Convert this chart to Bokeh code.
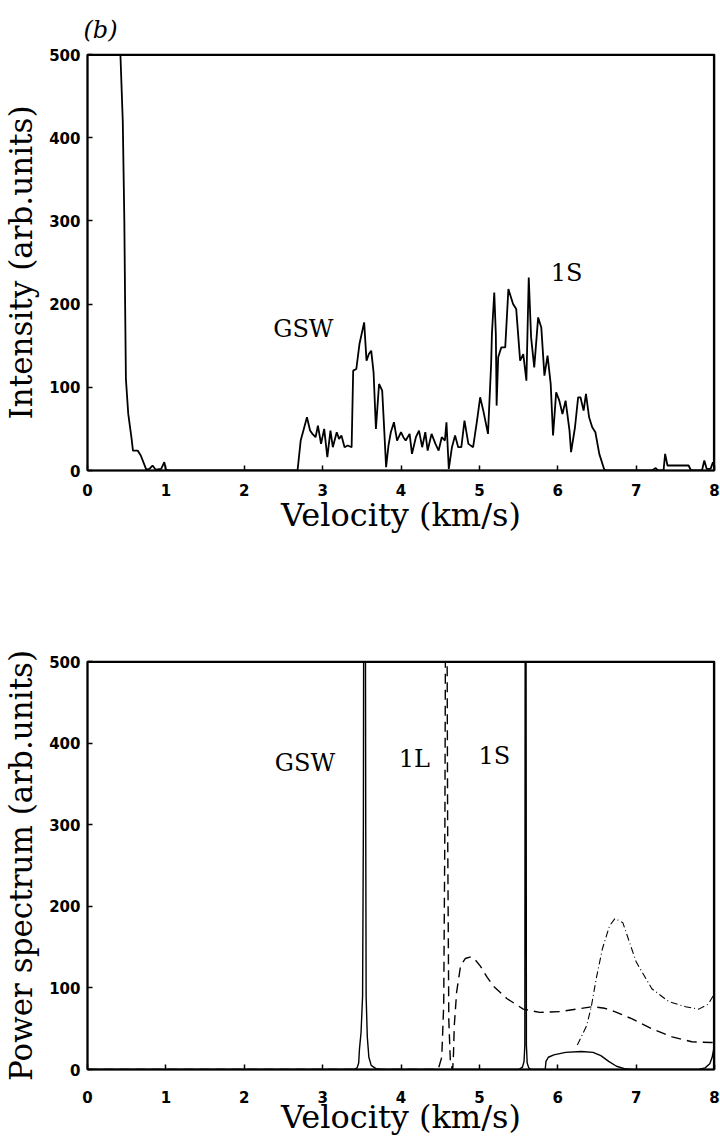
from bokeh.plotting import figure
from bokeh.layouts import column
from bokeh.models import Label, FixedTicker
from bokeh.embed import file_html
from bokeh.resources import INLINE

# ---------------- measured time-of-flight intensity (panel b, top) ----------------
vel_meas = [0.00, 0.39, 0.42, 0.45, 0.47, 0.48, 0.49, 0.52, 0.56, 0.58, 0.64, 0.68,
            0.75, 0.79, 0.83, 0.87, 0.94, 0.98, 1.00, 1.05, 2.68,
            2.72, 2.76, 2.80, 2.84, 2.87, 2.91, 2.94, 2.98, 3.02, 3.06, 3.10, 3.13,
            3.18, 3.21, 3.24, 3.28, 3.32, 3.37, 3.39, 3.43, 3.47, 3.53, 3.56, 3.59,
            3.62, 3.65, 3.68, 3.72, 3.76, 3.78, 3.81, 3.84, 3.87, 3.91, 3.95, 4.00,
            4.03, 4.06, 4.11, 4.14, 4.19, 4.23, 4.27, 4.31, 4.34, 4.39, 4.44, 4.48,
            4.52, 4.56, 4.58, 4.61, 4.65, 4.69, 4.73, 4.77, 4.81, 4.86, 4.92, 4.97,
            5.01, 5.05, 5.11, 5.15, 5.16, 5.19, 5.21, 5.22, 5.24, 5.28, 5.33, 5.37,
            5.43, 5.47, 5.52, 5.56, 5.60, 5.63, 5.66, 5.70, 5.75, 5.79, 5.83, 5.87,
            5.91, 5.94, 5.98, 6.02, 6.06, 6.10, 6.15, 6.17, 6.22, 6.26, 6.29, 6.33,
            6.36, 6.40, 6.44, 6.48, 6.53, 6.59, 6.61, 7.20, 7.25, 7.28, 7.35, 7.37,
            7.40, 7.67, 7.70, 7.84, 7.87, 7.90, 7.95, 7.98, 8.00]
int_meas = [500, 500, 500, 420, 300, 200, 110, 68, 40, 24, 24, 18,
            1, 2, 6, 1, 2, 10, 1, 0, 0,
            36, 50, 64, 48, 44, 40, 54, 32, 50, 16, 48, 28,
            46, 38, 42, 28, 30, 28, 120, 122, 152, 178, 132, 140,
            144, 118, 50, 104, 96, 60, 4, 30, 46, 58, 36, 46,
            40, 36, 44, 20, 40, 48, 28, 46, 24, 44, 32, 24,
            40, 36, 58, 2, 28, 42, 28, 28, 60, 32, 28, 60,
            88, 72, 44, 128, 164, 214, 164, 78, 136, 148, 148, 218,
            200, 194, 132, 140, 108, 232, 160, 124, 184, 172, 114, 138,
            104, 42, 94, 84, 68, 84, 48, 22, 52, 88, 88, 72,
            92, 64, 52, 46, 20, 2, 0, 0, 3, 0, 0, 20,
            6, 6, 0, 0, 12, 2, 2, 10, 4]

# ---------------- calculated power spectra (bottom) ----------------
# solid: GSW and 1S resonances plus weak continuum
vel_solid = [0.00, 3.40, 3.44, 3.46, 3.47, 3.49, 3.51, 3.52, 3.525, 3.545, 3.55,
             3.555, 3.57, 3.59, 3.62, 3.68, 3.75, 5.50, 5.55, 5.57, 5.58, 5.585,
             5.595, 5.60, 5.61, 5.63, 5.66, 5.84, 5.85, 5.88, 5.95, 6.10, 6.30,
             6.45, 6.55, 6.65, 6.75, 6.85, 6.95, 7.80, 7.88, 7.94, 7.97, 7.99, 8.00]
pow_solid = [0, 0, 2, 8, 25, 45, 90, 300, 620, 620, 300,
             90, 40, 15, 5, 1, 0, 0, 3, 10, 30, 620,
             620, 30, 8, 2, 0, 0, 10, 15, 18, 21, 22,
             21, 17, 10, 4, 1, 0, 0, 2, 7, 15, 25, 28]

# dashed: 1L resonance and its broad shoulder
vel_dash = [0.00, 4.40, 4.48, 4.52, 4.545, 4.56, 4.57, 4.585, 4.595, 4.61, 4.63,
            4.65, 4.66, 4.67, 4.68, 4.71, 4.76, 4.82, 4.89, 4.95, 5.01, 5.10,
            5.18, 5.35, 5.56, 5.77, 6.03, 6.24, 6.45, 6.60, 6.70, 6.95, 7.20,
            7.46, 7.71, 7.96, 8.00]
pow_dash = [0, 0, 2, 15, 80, 300, 620, 620, 300, 60, 10,
            2, 0, 20, 54, 95, 127, 136, 138, 134, 127, 113,
            102, 87, 74, 70, 71, 74, 77, 75, 72, 62, 50,
            40, 34, 33, 33]

# dash-dot: high-velocity branch
vel_dashdot = [6.25, 6.31, 6.37, 6.43, 6.49, 6.57, 6.66, 6.73, 6.83, 7.00, 7.20,
               7.42, 7.63, 7.80, 7.92, 8.00]
pow_dashdot = [30, 42, 54, 78, 111, 148, 176, 185, 180, 132, 99,
               83, 77, 74, 80, 93]

x_ticks = [0, 1, 2, 3, 4, 5, 6, 7, 8]
y_ticks = [0, 100, 200, 300, 400, 500]

# peak annotations: (text, velocity, value)
top_notes = [("GSW", 2.37, 170), ("1S", 5.91, 237)]
bottom_notes = [("GSW", 2.39, 376), ("1L", 3.97, 381), ("1S", 4.99, 384)]

SERIF = "DejaVu Serif"
TICKFONT = "DejaVu Sans"


def style(p, ylabel, tick_standoff, label_standoff):
    p.outline_line_color = "black"
    p.outline_line_width = 1.6
    p.xgrid.visible = False
    p.ygrid.visible = False
    p.background_fill_color = "white"
    p.border_fill_color = "white"
    # top and right edges of the plot box, traced along the range limits
    x_lo, x_hi = x_ticks[0], x_ticks[-1]
    y_lo, y_hi = y_ticks[0], y_ticks[-1]
    p.line(x=[x_lo, x_hi, x_hi], y=[y_hi, y_hi, y_lo],
           line_color="black", line_width=3.2)
    p.xaxis.ticker = FixedTicker(ticks=x_ticks)
    p.yaxis.ticker = FixedTicker(ticks=y_ticks)
    for ax in (p.xaxis[0], p.yaxis[0]):
        ax.axis_line_width = 2
        ax.axis_line_color = "black"
        ax.major_tick_in = 5
        ax.major_tick_out = 0
        ax.major_tick_line_width = 1.5
        ax.minor_tick_line_color = None
        ax.major_label_text_font = TICKFONT
        ax.major_label_text_font_style = "bold"
        ax.major_label_text_font_size = "15px"
        ax.major_label_text_color = "black"
        ax.axis_label_text_font = SERIF
        ax.axis_label_text_font_style = "normal"
        ax.axis_label_text_color = "black"
    p.xaxis.axis_label = "Velocity (km/s)"
    p.xaxis.axis_label_text_font_size = "32px"
    p.xaxis.major_label_standoff = tick_standoff
    p.xaxis.axis_label_standoff = label_standoff
    p.yaxis.axis_label = ylabel
    p.yaxis.axis_label_text_font_size = "31px"
    p.yaxis.major_label_standoff = 7
    p.yaxis.axis_label_standoff = 7


def notes(p, items):
    for txt, vx, vy in items:
        p.add_layout(Label(x=vx, y=vy, text=txt, text_font=SERIF,
                           text_font_size="24px", text_color="black",
                           text_baseline="alphabetic", text_align="left"))


# ---- top panel: measured intensity ----
top = figure(width=720, height=560, x_range=(0, 8), y_range=(0, 500),
             output_backend="svg", toolbar_location=None,
             min_border_left=86, min_border_right=6,
             min_border_top=54, min_border_bottom=90,
             title="(b)", title_location="above")
top.title.text_font = SERIF
top.title.text_font_style = "italic"
top.title.text_font_size = "24px"
top.title.text_color = "black"
top.title.align = "left"
top.title.offset = -4
top.title.standoff = 22
style(top, "Intensity (arb.units)", 13, -3)
top.line(vel_meas, int_meas, line_color="black", line_width=1.8)
notes(top, top_notes)

# ---- bottom panel: calculated power spectrum ----
bot = figure(width=720, height=578, x_range=(0, 8), y_range=(0, 500),
             output_backend="svg", toolbar_location=None,
             min_border_left=84, min_border_right=6,
             min_border_top=101, min_border_bottom=67)
style(bot, "Power spectrum (arb.units)", 21, -8)
bot.line(vel_solid, pow_solid, line_color="black", line_width=1.4)
bot.line(vel_dash, pow_dash, line_color="black", line_width=1.4,
         line_dash="10 6")
bot.line(vel_dashdot, pow_dashdot, line_color="black", line_width=1.1,
         line_dash="7 3 1 3")
notes(bot, bottom_notes)

layout = column(top, bot, spacing=0)
open("out.html", "w").write(file_html(layout, INLINE))
